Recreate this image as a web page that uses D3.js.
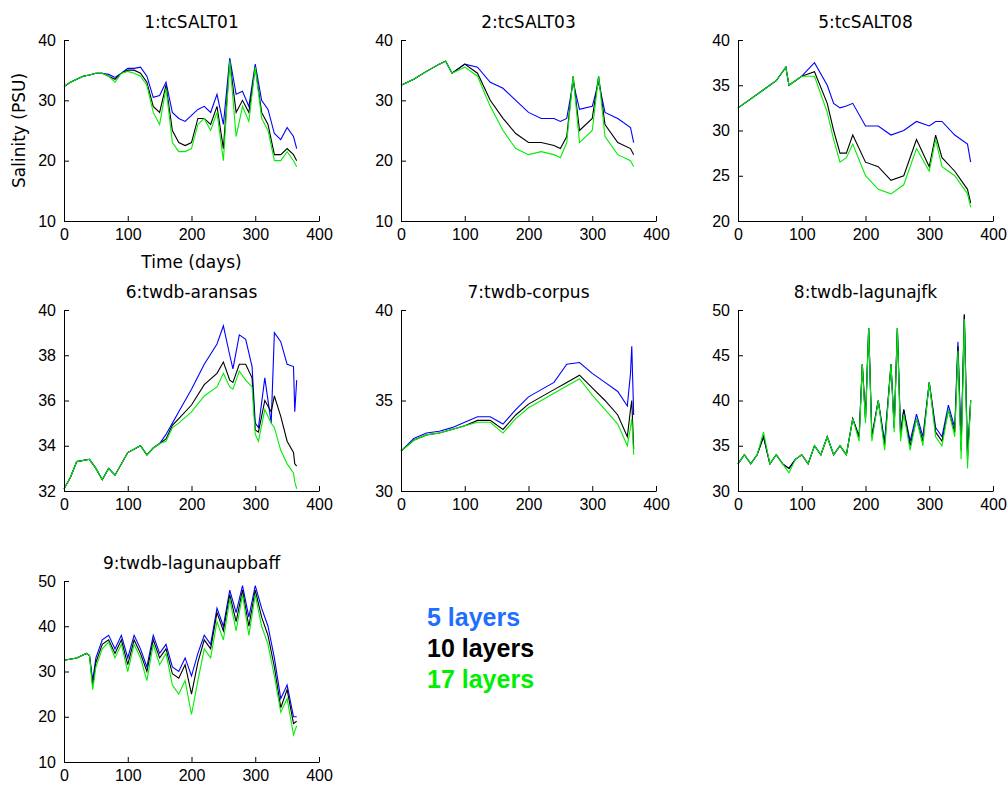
<!DOCTYPE html>
<html><head><meta charset="utf-8">
<script src="https://cdn.jsdelivr.net/npm/d3@7"></script>
<style>body{margin:0;background:#fff}text{font-family:"Liberation Sans",Arial,sans-serif}</style>
</head><body><svg id="c" width="1008" height="791"></svg>
<script>
const seriesNames=["5 layers","10 layers","17 layers"];
const seriesColors=["#0000ff","#000000","#00ee00"];
const titles=["1:tcSALT01","2:tcSALT03","5:tcSALT08","6:twdb-aransas","7:twdb-corpus","8:twdb-lagunajfk","9:twdb-lagunaupbaff"];
const yDomains=[[10,40],[10,40],[20,40],[32,40],[30,40],[30,50],[10,50]];
const yTicks=[[10,20,30,40],[10,20,30,40],[20,25,30,35,40],[32,34,36,38,40],[30,35,40],[30,35,40,45,50],[10,20,30,40,50]];
const xTicks=[0,100,200,300,400];

const d1=[0,10,20,30,40,50,60,70,80,90,100,110,120,130,140,150,160,170,180,190,200,210,220,230,240,250,260,270,280,290,300,310,320,330,340,350,360,365];
const p1Blue=[32.3,33,33.5,34,34.2,34.5,34.5,34.3,33.8,34.5,35.3,35.3,35.5,34,30.5,30.8,33,28,27,26.5,27.5,28.5,29,28,31,26,37,31,31.5,29,36,30,28.5,24.5,23.5,25.5,24,22];
const p1Black=[32.3,33,33.5,34,34.2,34.5,34.5,34,33.5,34.5,35,35,34.5,33,29,28,32.5,25,23,22.5,23,27,27,26,29,22,36.5,28,30,28,35.5,28,26,21,21,22,21,20];
const p1Green=[32.3,33,33.5,34,34.2,34.5,34.5,34,33,34.5,34.8,34.5,34,32.5,28,26,32,23,21.5,21.5,22,26,27,25,28,20,36.5,24,29,26.5,35.5,27,25,20,20,21.5,20,19];

const d2=[0,20,40,60,70,80,100,120,140,160,180,200,220,240,250,260,270,280,300,310,320,340,360,365];
const p2Blue=[32.5,33.5,34.8,36,36.5,34.5,36,35.5,33,32,30,28,27,27,26.5,27,33,28.5,29,33,28,27,25.5,23];
const p2Black=[32.5,33.5,34.8,36,36.5,34.5,36,34.5,30,27,24.5,23,23,22.5,22,24,34,25,27,34,26,23,22,21];
const p2Green=[32.5,33.5,34.8,36,36.5,34.5,35.5,34,29,25,22,21,21.5,21,20.5,23,34,23,25,34,24,21,20,19];

const d3d=[0,20,40,60,75,80,100,120,140,150,160,170,180,200,220,240,260,280,300,310,320,340,360,365];
const p3Blue=[32.5,33.5,34.5,35.5,37,35,36,37.5,35,33,32.5,32.7,33,30.5,30.5,29.5,30,31,30.5,31,31,29.5,28.5,26.5];
const p3Black=[32.5,33.5,34.5,35.5,37,35,36,36.5,33,30,27.5,27.5,29.5,26.5,26,24.5,25,29,26,29.5,27,25.5,23.5,22];
const p3Green=[32.5,33.5,34.5,35.5,37,35,36,36,32,29,26.5,27,28.5,25,23.5,23,24,28,25.5,29,26,25,23,21.5];

const d6=[0,10,20,40,50,60,70,80,100,120,130,140,150,160,170,180,200,220,240,250,260,265,275,285,295,300,305,315,325,330,340,350,360,362,365];
const p6Blue=[32.1,32.6,33.3,33.4,33,32.5,33,32.7,33.7,34,33.6,33.9,34.1,34.5,35,35.5,36.5,37.6,38.5,39.3,38,37.4,38.9,38.7,37.5,35,34.8,37,35,39,38.6,37.6,37.5,35.5,36.9];
const p6Black=[32.1,32.6,33.3,33.4,33,32.5,33,32.7,33.7,34,33.6,33.9,34.1,34.3,34.9,35.2,35.8,36.7,37.2,37.7,36.9,36.8,37.6,37.6,37,34.7,34.6,36,35.5,36.2,35.3,34.2,33.7,33.2,33.1];
const p6Green=[32.1,32.6,33.3,33.4,33,32.5,33,32.7,33.7,34,33.6,33.9,34.1,34.2,34.8,35,35.5,36.2,36.6,37.2,36.6,36.5,37.3,36.9,36.6,34.5,34.2,35.6,35,34.8,33.8,33.2,32.8,32.4,32.1];

const d7=[0,20,40,60,80,100,120,140,160,180,200,220,240,260,280,300,320,340,355,360,362,365];
const p7Blue=[32.2,32.9,33.2,33.3,33.5,33.8,34.1,34.1,33.7,34.5,35.2,35.6,36,37,37.1,36.5,36,35.5,34.7,36.5,38,34.2];
const p7Black=[32.2,32.8,33.1,33.2,33.4,33.6,33.9,33.9,33.4,34.2,34.8,35.2,35.6,36,36.4,35.7,35,34.2,33,34.5,35,32.3];
const p7Green=[32.2,32.8,33.1,33.2,33.4,33.6,33.8,33.8,33.2,34,34.6,35,35.4,35.8,36.2,35.3,34.5,33.7,32.5,33.5,34,32];

const d8=[0,10,20,30,40,50,60,70,80,90,100,110,120,130,140,150,160,170,180,190,195,200,205,210,220,230,240,245,250,255,260,270,280,290,300,310,320,330,340,345,350,355,360,365];
const p8Blue=[33,34,33,34,36,33,34,33,32.5,33.5,34,33,35,34,36,34,35,34,38,36,44,38,48,36,40,35.5,44,37,48,36.5,39,35.5,38.5,36,42,37,36,39.5,37,46.5,35,49.5,34,40];
const p8Black=[33,34,33,34,36,33,34,33,32.5,33.5,34,33,35,34,36,34,35,34,38,36,44,38,48,36,40,35,44,37,48,36,39,35,38,35.5,42,36.5,35.5,39,36.5,46,34.5,49.5,33.5,40];
const p8Green=[33,34,33,34,36.5,33,34,33,32,33.5,34,33,35,34,36,34,35,34,38,35.5,44,37.5,48,35.5,40,34.5,44,36.5,48,35.5,38.5,34.5,38,35,42,36,35,39,36,45.5,33.5,49,32.5,40];

const d9=[0,20,35,40,45,50,60,70,80,90,100,110,120,130,140,150,160,170,180,190,200,210,220,230,240,250,260,270,280,290,300,310,320,330,340,350,360,365];
const p9Blue=[32.5,33,34,33.5,28,33,37,38,35,38,33,38,35,31,38,34,36,31,30,33,29,34,38,36,44,40,48,43,49,42,49,44,40,33,24,27,20,20];
const p9Black=[32.5,33,34,33.5,27,32,36,37,34,37,31.5,37,34,30,37,33,35,29.5,28.5,31.5,25,32,37,35,43,39,47,41,48,40,48,42,38,31,22,26,18.5,19];
const p9Green=[32.5,33,34,33.5,26,31,35,36.5,33,36,30,36,33,28,36,31.5,34,27,25,28,20.5,28,35,33,41,37,46,39,47,38,47,40,36,29,21,24,16,18];

const panels=[
 [d1,[p1Blue,p1Black,p1Green]],[d2,[p2Blue,p2Black,p2Green]],[d3d,[p3Blue,p3Black,p3Green]],
 [d6,[p6Blue,p6Black,p6Green]],[d7,[p7Blue,p7Black,p7Green]],[d8,[p8Blue,p8Black,p8Green]],[d9,[p9Blue,p9Black,p9Green]]];

const svg=d3.select("#c");
const colX=[64,401,738], rowY=[40,310,581], W=255, H=181;
panels.forEach(([days,ser],i)=>{
  const gx=colX[i%3], gy=rowY[Math.floor(i/3)];
  const g=svg.append("g").attr("transform",`translate(${gx},${gy})`);
  const x=d3.scaleLinear().domain([0,400]).range([0,W]);
  const y=d3.scaleLinear().domain(yDomains[i]).range([H,0]);
  ser.forEach((vals,k)=>{
    g.append("path").datum(vals).attr("fill","none").attr("stroke",seriesColors[k]).attr("stroke-width",1.1)
     .attr("d",d3.line().x((v,j)=>x(days[j])).y(v=>y(v)));
  });
  const ax=g.append("g").attr("transform",`translate(0,${H})`).call(d3.axisBottom(x).tickValues(xTicks).tickSizeInner(-5).tickSizeOuter(0).tickPadding(8));
  const ay=g.append("g").call(d3.axisLeft(y).tickValues(yTicks[i]).tickSizeInner(-5).tickSizeOuter(0).tickPadding(8));
  [ax,ay].forEach(a=>{a.selectAll("text").attr("font-size",16).attr("fill","#000").style("font-family","Liberation Sans,Arial");a.selectAll("line,path").attr("stroke","#000");});
  g.append("text").attr("x",W/2).attr("y",-12).attr("text-anchor","middle").attr("font-size",17).style("font-family","DejaVu Sans").text(titles[i]);
});
svg.append("text").attr("x",colX[0]+W/2).attr("y",rowY[0]+H+47).attr("text-anchor","middle").attr("font-size",17).style("font-family","DejaVu Sans").text("Time (days)");
svg.append("text").attr("transform",`translate(25,${rowY[0]+H/2}) rotate(-90)`).attr("text-anchor","middle").attr("font-size",17).style("font-family","DejaVu Sans").text("Salinity (PSU)");
const legColors=["#1f6fff","#000000","#00ee00"];
seriesNames.forEach((n,k)=>svg.append("text").attr("x",427).attr("y",626+k*31).attr("font-size",25).attr("font-weight","bold").attr("fill",legColors[k]).text(n));
</script></body></html>
